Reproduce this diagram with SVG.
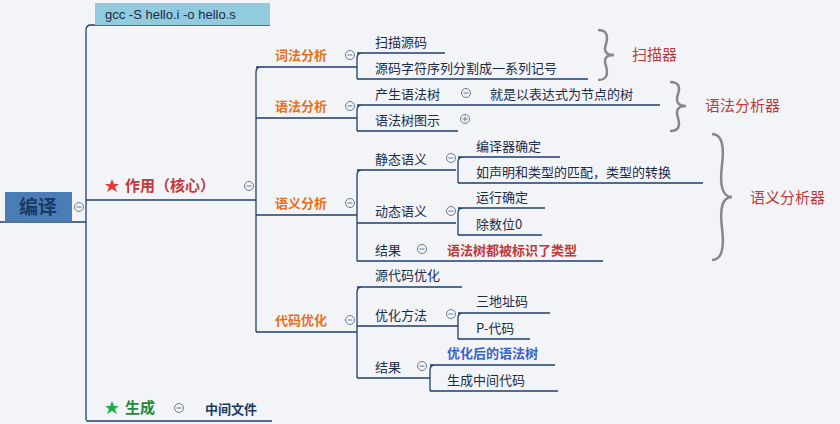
<svg xmlns="http://www.w3.org/2000/svg" width="840" height="424" viewBox="0 0 840 424">
<style>
text{font-family:"Noto Sans CJK SC","Liberation Sans",sans-serif;font-size:13px;fill:#1c2c48}
.o{fill:#e8701a;font-weight:bold}
.br{fill:#c0393b;font-size:15px}
.ln{fill:none;stroke:#1f3f6a;stroke-width:1.3}
.c{fill:#f2f4f8;stroke:#6a7a90;stroke-width:1}
.cl{stroke:#6a7a90;stroke-width:1}
.brace{fill:none;stroke:#888;stroke-width:2.5}
</style>
<defs>
<g id="minus"><circle class="c" r="4.5"/><line class="cl" x1="-2.5" x2="2.5"/></g>
<g id="plus"><circle class="c" r="4.5"/><line class="cl" x1="-2.5" x2="2.5"/><line class="cl" y1="-2.5" y2="2.5"/></g>
</defs>
<rect width="840" height="424" fill="#f2f4f8"/>
<g id="connectors">
<path class="ln" d="M0 222H86M90 25H270M86 420V30Q86 25 91 25M86 200H256M86 421H272"/>
<path class="ln" d="M256 67H357M256 118H357M256 215H357M256 332H357M256 332V72Q256 67 261 67"/>
<path class="ln" d="M357 53H445M357 79H588M357 79V58Q357 53 362 53"/>
<path class="ln" d="M357 105H660M357 131H458M357 131V110Q357 105 362 105"/>
<path class="ln" d="M357 170H456M357 223H456M357 261H603M357 261V175Q357 170 362 170"/>
<path class="ln" d="M458 157H560M458 183H703M458 183V162Q458 157 463 157"/>
<path class="ln" d="M458 208H545M458 235H542M458 235V213Q458 208 463 208"/>
<path class="ln" d="M357 287H462M357 326H458M357 378H430M357 378V292Q357 287 362 287"/>
<path class="ln" d="M458 313H550M458 339H530M458 339V318Q458 313 463 313"/>
<path class="ln" d="M430 365H555M430 391H558M430 391V370Q430 365 435 365"/>
</g>
<g id="root"><rect x="5" y="192" width="67" height="30" fill="#4a7cb5"/><text x="38" y="214" text-anchor="middle" style="font-size:19px;font-weight:bold;fill:#1a3a66">编译</text><use href="#minus" x="79" y="207"/></g>
<g id="gcc"><rect x="95" y="3" width="175" height="22" fill="#92cade"/><text x="105" y="19" style="font-family:'Liberation Sans',sans-serif;font-size:13px">gcc -S hello.i -o hello.s</text></g>
<g id="zuoyong"><polygon points="112,179 114,184 119,184 115,187 117,192 112,189 107,192 109,187 105,184 110,184" fill="#e03a3a"/><text x="125" y="191" style="font-size:15px;fill:#c0393b;font-weight:bold">作用（核心）</text><use href="#minus" x="249" y="186"/></g>
<g id="shengcheng"><polygon points="112,401 114,406 119,406 115,409 117,414 112,411 107,414 109,409 105,406 110,406" fill="#1fb04a"/><text x="125" y="413" style="font-size:15px;fill:#1f8a3a;font-weight:bold">生成</text><use href="#minus" x="179" y="408"/><text x="205" y="414" style="font-weight:bold;fill:#1a3a66">中间文件</text></g>
<g id="cifa"><text class="o" x="275" y="60">词法分析</text><use href="#minus" x="350" y="55"/>
<text x="375" y="47">扫描源码</text><text x="375" y="73">源码字符序列分割成一系列记号</text></g>
<g id="yufa"><text class="o" x="275" y="111">语法分析</text><use href="#minus" x="350" y="106"/>
<text x="375" y="99">产生语法树</text><use href="#minus" x="466" y="93"/><text x="490" y="99">就是以表达式为节点的树</text>
<text x="375" y="125">语法树图示</text><use href="#plus" x="465" y="119"/></g>
<g id="yuyi"><text class="o" x="275" y="208">语义分析</text><use href="#minus" x="350" y="203"/>
<text x="375" y="164">静态语义</text><use href="#minus" x="451" y="158"/>
<text x="476" y="151">编译器确定</text><text x="476" y="177">如声明和类型的匹配，类型的转换</text>
<text x="375" y="216">动态语义</text><use href="#minus" x="451" y="211"/>
<text x="476" y="202">运行确定</text><text x="476" y="229">除数位0</text>
<text x="375" y="255">结果</text><use href="#minus" x="422" y="249"/><text x="447" y="255" style="font-weight:bold;fill:#c0393b">语法树都被标识了类型</text></g>
<g id="youhua"><text class="o" x="275" y="325">代码优化</text><use href="#minus" x="350" y="320"/>
<text x="375" y="280">源代码优化</text>
<text x="375" y="320">优化方法</text><use href="#minus" x="451" y="314"/>
<text x="476" y="306">三地址码</text><text x="476" y="333">P-代码</text>
<text x="375" y="372">结果</text><use href="#minus" x="422" y="366"/>
<text x="447" y="358" style="font-weight:bold;fill:#3a5fd0">优化后的语法树</text><text x="447" y="385">生成中间代码</text></g>
<g id="braces">
<path class="brace" d="M598 30Q610 30 606 44Q602 55 614 55Q602 55 606 66Q610 80 598 80"/>
<text class="br" x="632" y="60">扫描器</text>
<path class="brace" d="M670 82Q682 82 678 94Q674 106 686 106Q674 106 678 118Q682 131 670 131"/>
<text class="br" x="705" y="111">语法分析器</text>
<path class="brace" d="M712 134Q726 134 722 165Q718 197 732 197Q718 197 722 228Q726 260 712 260"/>
<text class="br" x="750" y="203">语义分析器</text>
</g>
</svg>
